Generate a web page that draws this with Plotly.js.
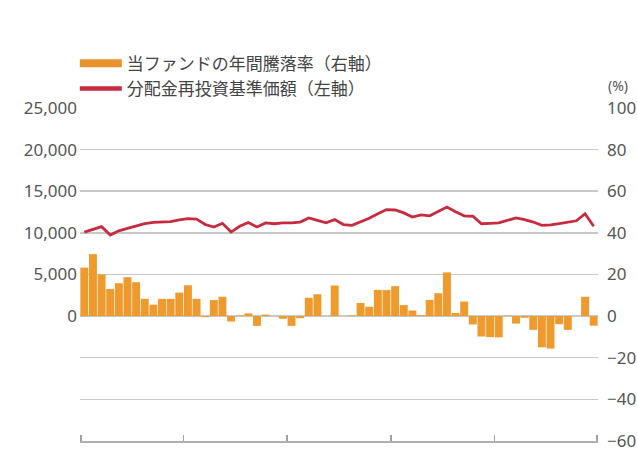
<!DOCTYPE html>
<html>
<head>
<meta charset="utf-8">
<script src="https://cdn.plot.ly/plotly-3.0.1.min.js"></script>
<style>
  html, body { margin: 0; padding: 0; background: #ffffff; }
  #chart { width: 637px; height: 453px; }
</style>
</head>
<body>
<div id="chart"></div>
<script>
// Monthly periods (60 months = 5 years)
const periods = Array.from({length: 60}, (_, i) => i + 1);

// 当ファンドの年間騰落率 (%), right axis
const fundReturn = [
  23.3, 29.8, 20.0, 13.0, 15.8, 18.7, 16.3, 8.3, 5.5, 8.3,
  8.3, 11.3, 14.8, 8.3, -0.5, 7.7, 9.3, -2.6, 0.3, 1.3,
  -4.7, 0.7, 0.0, -1.3, -4.7, -1.0, 8.8, 10.5, 0.0, 14.7,
  0.0, 0.3, 6.3, 4.5, 12.6, 12.5, 14.4, 5.3, 2.7, 0.5,
  7.8, 11.0, 21.0, 1.5, 7.0, -4.0, -9.8, -10.1, -10.2, 0.2,
  -3.6, -0.8, -6.6, -15.0, -15.6, -3.9, -6.6, 0.0, 9.3, -4.6
];

// 分配金再投資基準価額 (円), left axis
const navReinvested = [
  10100, 10450, 10750, 9750, 10250, 10550, 10800, 11100, 11250, 11300,
  11350, 11550, 11700, 11650, 11000, 10700, 11150, 10100, 10800, 11250,
  10700, 11200, 11100, 11200, 11200, 11300, 11800, 11500, 11200, 11600,
  11000, 10900, 11350, 11750, 12300, 12800, 12750, 12400, 11900, 12150,
  12050, 12550, 13100, 12550, 12050, 12000, 11100, 11150, 11200, 11500,
  11800, 11600, 11300, 10900, 10950, 11100, 11300, 11450, 12300, 10800
];

const barName = '当ファンドの年間騰落率（右軸）';
const lineName = '分配金再投資基準価額（左軸）';
const leftTicks = [0, 5000, 10000, 15000, 20000, 25000];
const rightTicks = [-60, -40, -20, 0, 20, 40, 60, 80, 100];
const yearBoundaries = [0.64, 12.5, 24.5, 36.5, 48.5, 60.36];

const orange = '#EE9A2D';
const red = '#C62B3F';
const numFont = 'Noto Sans, Open Sans, sans-serif';
const jpFont = 'Noto Sans CJK JP, sans-serif';

const traces = [
  {
    type: 'bar', x: periods, y: fundReturn, yaxis: 'y2',
    marker: {color: orange}, name: barName, showlegend: false, hoverinfo: 'x+y'
  },
  {
    type: 'scatter', mode: 'lines', x: periods, y: navReinvested, yaxis: 'y',
    line: {color: red, width: 2.8}, name: lineName, showlegend: false
  },
  // legend entries
  {
    type: 'scatter', mode: 'lines', x: [null], y: [null], yaxis: 'y2',
    line: {color: '#E8922E', width: 8}, name: barName, showlegend: true
  },
  {
    type: 'scatter', mode: 'lines', x: [null], y: [null], yaxis: 'y',
    line: {color: red, width: 4.5}, name: lineName, showlegend: true
  }
];

const layout = {
  width: 637, height: 453,
  margin: {l: 80, r: 39, t: 108, b: 12, pad: 0},
  paper_bgcolor: '#ffffff', plot_bgcolor: '#ffffff',
  bargap: 0.08,
  showlegend: true,
  legend: {
    x: -0.01, xanchor: 'left', y: 1.187, yanchor: 'top',
    orientation: 'v', itemwidth: 42,
    font: {family: jpFont, size: 17, color: '#444'},
    bgcolor: 'rgba(0,0,0,0)', tracegroupgap: 0
  },
  xaxis: {
    range: [0.5, 60.5], tickvals: yearBoundaries, ticks: 'inside', ticklen: 6,
    tickcolor: '#a0a0a0', tickwidth: 1.5, showticklabels: false,
    showline: true, linecolor: '#b0b0b0', linewidth: 1.5,
    showgrid: false, zeroline: false, fixedrange: true
  },
  yaxis: {
    range: [-15000, 25000], tickvals: leftTicks, tickformat: ',d',
    ticks: '', showgrid: false, zeroline: false, showline: false,
    tickfont: {family: numFont, size: 17, color: '#555'},
    ticklabelstandoff: 2
  },
  yaxis2: {
    range: [-60.01, 100], tickvals: rightTicks, overlaying: 'y', side: 'right',
    ticks: '', showgrid: true, gridcolor: '#c8c8c8', gridwidth: 1.5,
    zeroline: false, showline: false, ticklabeloverflow: 'allow',
    tickfont: {family: numFont, size: 17, color: '#555'},
    ticklabelstandoff: 8
  },
  annotations: [
    {
      xref: 'paper', yref: 'paper', x: 1.015, y: 1.069, xanchor: 'left', yanchor: 'middle',
      text: '(%)', showarrow: false,
      font: {family: numFont, size: 14, color: '#555'}
    }
  ]
};

Plotly.newPlot('chart', traces, layout, {displayModeBar: false, staticPlot: true});
</script>
</body>
</html>
